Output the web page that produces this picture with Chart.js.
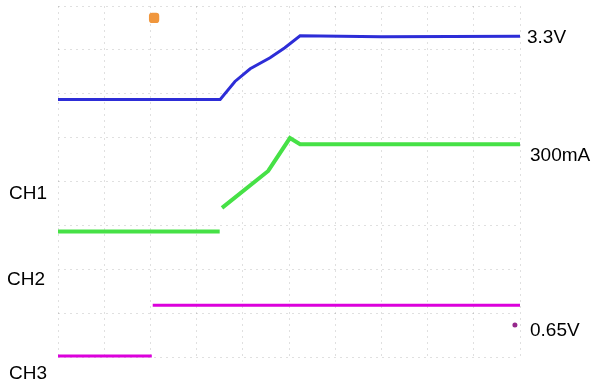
<!DOCTYPE html>
<html>
<head>
<meta charset="utf-8">
<script src="https://cdn.jsdelivr.net/npm/chart.js@4.4.1/dist/chart.umd.min.js"></script>
<style>
  html, body { margin: 0; padding: 0; background: #fff; }
  #wrap { width: 597px; height: 383px; }
</style>
</head>
<body>
<div id="wrap"><canvas id="scope"></canvas></div>
<script>
// time in divisions (0..10), level in divisions (0..8)
const blueX = [0, 3.51, 3.83, 4.16, 4.59, 4.91, 5.24, 7, 10];
const blueY = [5.87, 5.87, 6.28, 6.57, 6.82, 7.05, 7.32, 7.30, 7.31];

const greenX = [0, 3.50, 3.52, 3.55, 4.55, 5.02, 5.24, 7, 10];
const greenY = [2.86, 2.86, null, 3.40, 4.24, 4.99, 4.85, 4.85, 4.85];

const pinkX = [0, 2.03, 2.04, 2.05, 10];
const pinkY = [0.02, 0.02, null, 1.18, 1.18];

const triggerPoint = [2.08, 7.73];
const pinkDot = [9.89, 0.73];

const rightLabels = ["3.3V", "300mA", "0.65V"];
const leftLabels = ["CH1", "CH2", "CH3"];

function pts(xs, ys) {
  return xs.map((x, i) => ({ x: x, y: ys[i] }));
}

const labelPlugin = {
  id: "scopeLabels",
  afterDraw(chart) {
    const c = chart.ctx;
    const yScale = chart.scales.y;
    c.save();
    c.font = "19px 'Liberation Sans', Arial, sans-serif";
    c.fillStyle = "#000";
    c.textBaseline = "middle";
    const rightPos = [[527, 7.27], [530, 4.58], [530, 0.59]];
    rightLabels.forEach((t, i) => {
      c.fillText(t, rightPos[i][0], yScale.getPixelForValue(rightPos[i][1]));
    });
    const leftPos = [[9, 3.72], [7, 1.77], [9, -0.39]];
    leftLabels.forEach((t, i) => {
      c.fillText(t, leftPos[i][0], yScale.getPixelForValue(leftPos[i][1]));
    });
    c.restore();
  }
};

const noSize = axis => { axis.width = axis.isHorizontal() ? axis.width : 0; axis.height = axis.isHorizontal() ? 0 : axis.height; };

new Chart(document.getElementById("scope"), {
  type: "line",
  data: {
    datasets: [
      { data: pts(blueX, blueY), borderColor: "rgb(45,45,215)", borderWidth: 3 },
      { data: pts(greenX, greenY), borderColor: "rgb(70,225,70)", borderWidth: 4 },
      { data: pts(pinkX, pinkY), borderColor: "rgb(220,0,220)", borderWidth: 3 },
      { data: [{ x: triggerPoint[0], y: triggerPoint[1] }], showLine: false,
        pointStyle: "rectRounded", pointRadius: 6, backgroundColor: "rgb(240,150,60)", borderWidth: 0 },
      { data: [{ x: pinkDot[0], y: pinkDot[1] }], showLine: false,
        pointRadius: 2.5, backgroundColor: "rgb(150,40,140)", borderWidth: 0 }
    ]
  },
  options: {
    responsive: true,
    maintainAspectRatio: false,
    animation: false,
    clip: false,
    spanGaps: false,
    layout: { padding: { left: 58, right: 77, top: 4, bottom: 26 } },
    elements: { point: { radius: 0 }, line: { tension: 0 } },
    plugins: { legend: { display: false }, tooltip: { enabled: false } },
    scales: {
      x: {
        type: "linear", min: 0, max: 10,
        ticks: { display: false, stepSize: 1 },
        grid: { color: "rgba(0,0,0,0.12)", drawTicks: false },
        border: { display: false, dash: [2, 4] },
        afterFit: noSize
      },
      y: {
        type: "linear", min: 0, max: 8,
        ticks: { display: false, stepSize: 1 },
        grid: { color: "rgba(0,0,0,0.12)", drawTicks: false },
        border: { display: false, dash: [2, 4] },
        afterFit: noSize
      }
    }
  },
  plugins: [labelPlugin]
});
</script>
</body>
</html>
